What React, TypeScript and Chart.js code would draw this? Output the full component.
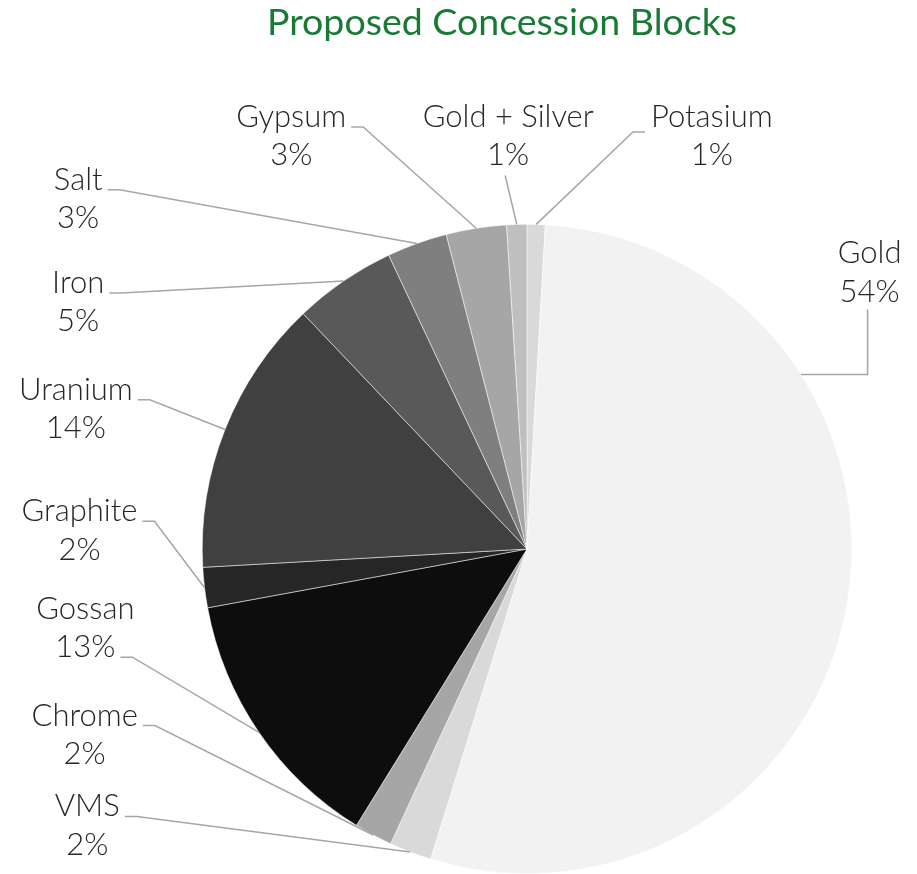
import React, { useEffect, useRef } from "react";
import { Chart, registerables } from "chart.js";

Chart.register(...registerables);

// ---- data ----
const chartTitle = "Proposed Concession Blocks";
const categories = [
  "Potasium",
  "Gold",
  "VMS",
  "Chrome",
  "Gossan",
  "Graphite",
  "Uranium",
  "Iron",
  "Salt",
  "Gypsum",
  "Gold + Silver",
];
const shares = [0.9, 53.9, 2.1, 1.9, 13.3, 2.0, 13.8, 5.1, 3.0, 3.0, 1.0];
const sliceColors = [
  "#d9d9d9",
  "#f2f2f2",
  "#d9d9d9",
  "#a6a6a6",
  "#0d0d0d",
  "#262626",
  "#404040",
  "#595959",
  "#7f7f7f",
  "#a6a6a6",
  "#bfbfbf",
];

// label placement relative to the pie centre, in units of the pie radius
const labelLayout = [
  { dx: 0.569, dy: -1.271, attach: "left" },
  { dx: 1.055, dy: -0.852, attach: "elbow", leg: 0.2 },
  { dx: -1.354, dy: 0.852, attach: "right" },
  { dx: -1.362, dy: 0.572, attach: "right" },
  { dx: -1.36, dy: 0.243, attach: "right2" },
  { dx: -1.378, dy: -0.057, attach: "right" },
  { dx: -1.389, dy: -0.431, attach: "right" },
  { dx: -1.382, dy: -0.76, attach: "right" },
  { dx: -1.382, dy: -1.078, attach: "right" },
  { dx: -0.726, dy: -1.271, attach: "right" },
  { dx: -0.058, dy: -1.271, attach: "bottom" },
];

const LABEL_FONT = "300 31px Lato";
const LINE_H = 38.5;

const labelPlugin = {
  id: "excelLabels",
  afterDraw(chart: any) {
    const ctx = chart.ctx as CanvasRenderingContext2D;
    const meta = chart.getDatasetMeta(0);
    const data = chart.data.datasets[0].data as number[];
    const total = data.reduce((a, b) => a + b, 0);
    ctx.save();
    // title
    ctx.font = "400 37.5px Lato";
    ctx.fillStyle = "#187a35";
    ctx.textAlign = "center";
    ctx.textBaseline = "middle";
    ctx.fillText(chartTitle, 502, 23);

    ctx.font = LABEL_FONT;
    meta.data.forEach((arc: any, i: number) => {
      const { x: cx, y: cy, startAngle, endAngle, outerRadius: R } = arc.getProps(
        ["x", "y", "startAngle", "endAngle", "outerRadius"],
        true
      );
      const lay: any = labelLayout[i];
      const lx = cx + lay.dx * R;
      const ly = cy + lay.dy * R;
      const lines = [chart.data.labels[i], Math.round((data[i] / total) * 100) + "%"];
      const y1 = ly - LINE_H / 2;
      const y2 = ly + LINE_H / 2;
      const w1 = ctx.measureText(lines[0]).width;
      const w2 = ctx.measureText(lines[1]).width;
      const mid = (startAngle + endAngle) / 2;
      const ax = cx + Math.cos(mid) * R;
      const ay = cy + Math.sin(mid) * R;

      ctx.strokeStyle = "#a6a6a6";
      ctx.lineWidth = 1.5;
      ctx.beginPath();
      if (lay.attach === "right" || lay.attach === "right2") {
        const w = lay.attach === "right" ? w1 : w2;
        const yy = (lay.attach === "right" ? y1 : y2) + 10;
        const x0 = lx + w / 2 + 5;
        ctx.moveTo(x0, yy);
        ctx.lineTo(x0 + 12, yy);
        ctx.lineTo(ax, ay);
      } else if (lay.attach === "left") {
        const yy = y1 + 15;
        const x0 = lx - w1 / 2 - 6;
        ctx.moveTo(x0, yy);
        ctx.lineTo(x0 - 12, yy);
        ctx.lineTo(ax, ay);
      } else if (lay.attach === "bottom") {
        ctx.moveTo(lx - 3, y2 + 20);
        ctx.lineTo(ax, ay);
      } else if (lay.attach === "elbow") {
        const x0 = lx - 2;
        const yTop = y2 + 18;
        const yy = yTop + lay.leg * R;
        const hx = cx + Math.sqrt(Math.max(R * R - (yy - cy) * (yy - cy), 0));
        ctx.moveTo(x0, yTop);
        ctx.lineTo(x0, yy);
        ctx.lineTo(hx, yy);
      }
      ctx.stroke();

      ctx.fillStyle = "#262626";
      ctx.textAlign = "center";
      ctx.textBaseline = "middle";
      ctx.fillText(lines[0], lx, y1);
      ctx.fillText(lines[1], lx, y2);
    });
    ctx.restore();
  },
};

export default function App() {
  const ref = useRef<HTMLCanvasElement | null>(null);
  useEffect(() => {
    document.body.style.margin = "0";
    if (!ref.current) return;
    const chart = new Chart(ref.current, {
      type: "pie",
      data: {
        labels: categories,
        datasets: [
          {
            data: shares,
            backgroundColor: sliceColors,
            borderColor: "#ffffff",
            borderWidth: 0.5,
          },
        ],
      },
      options: {
        responsive: false,
        animation: false,
        devicePixelRatio: 1,
        layout: { padding: { left: 202, right: 65, top: 224, bottom: 0 } },
        plugins: {
          legend: { display: false },
          tooltip: { enabled: false },
          title: { display: false },
        },
      },
      plugins: [labelPlugin],
    });
    return () => chart.destroy();
  }, []);
  return (
    <div style={{ width: 917, height: 874, background: "#ffffff" }}>
      <canvas ref={ref} width={917} height={874} />
    </div>
  );
}
